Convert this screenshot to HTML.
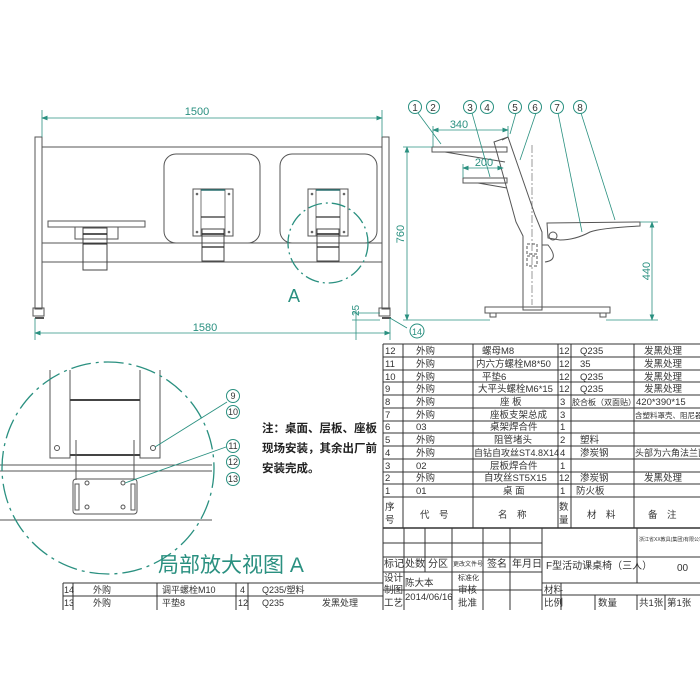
<!DOCTYPE html>
<html><head><meta charset="utf-8"><style>
html,body{margin:0;padding:0;background:#fff;}
svg{display:block;}
.t{font-family:"Liberation Sans","Noto Sans CJK SC",sans-serif;}
</style></head><body>
<svg width="700" height="700" viewBox="0 0 700 700" xmlns="http://www.w3.org/2000/svg" class="t">
<defs>
<marker id="a" markerWidth="8" markerHeight="6" refX="7" refY="3" orient="auto-start-reverse"><path d="M0,0L8,3L0,6z" fill="#2a9080"/></marker>
<g id="br">
<rect x="0" y="0" width="40" height="47" fill="none" stroke="#555" stroke-width="1"/>
<rect x="8" y="0" width="24" height="47" fill="none" stroke="#555" stroke-width="0.8"/>
<line x1="8" y1="1" x2="32" y2="1" stroke="#2a7070" stroke-width="1.5"/>
<line x1="8" y1="28" x2="32" y2="28" stroke="#333" stroke-width="1.2"/>
<circle cx="4" cy="5" r="1.3" fill="#666"/><circle cx="36" cy="5" r="1.3" fill="#666"/>
<circle cx="4" cy="43" r="1.3" fill="#666"/><circle cx="36" cy="43" r="1.3" fill="#666"/>
<rect x="9" y="40" width="22" height="32" fill="none" stroke="#444" stroke-width="1"/>
<line x1="9" y1="45" x2="31" y2="45" stroke="#222" stroke-width="1.5"/>
<line x1="9" y1="58" x2="31" y2="58" stroke="#222" stroke-width="1.2"/>
</g>
</defs>
<rect width="700" height="700" fill="#fff"/>
<g stroke="#555" fill="none" stroke-width="1">
<rect x="35" y="137" width="7" height="172"/>
<rect x="382" y="137" width="7" height="172"/>
<line x1="42" y1="147" x2="382" y2="147"/>
<line x1="42" y1="243" x2="382" y2="243"/>
<line x1="42" y1="262" x2="382" y2="262"/>
<rect x="164" y="154" width="96" height="89" rx="12"/>
<rect x="280" y="154" width="97" height="89" rx="12"/>
<rect x="48" y="221" width="97" height="6"/>
<rect x="75" y="227" width="43" height="12"/>
<rect x="33" y="308" width="11" height="8"/><rect x="379" y="308" width="11" height="8"/>
<line x1="35" y1="318" x2="44" y2="318" stroke-width="2"/><line x1="382" y1="318" x2="391" y2="318" stroke-width="2"/>
</g>
<use href="#br" x="193" y="189"/>
<use href="#br" x="308" y="189"/>
<g transform="translate(83,228)" stroke="#444" fill="none">
<rect x="0" y="0" width="24" height="42"/><line x1="0" y1="6" x2="24" y2="6" stroke="#222" stroke-width="1.5"/><line x1="0" y1="16" x2="24" y2="16" stroke="#222"/>
</g>
<g stroke="#2a9080" fill="none" stroke-width="1.3">
<circle cx="328" cy="243" r="40" stroke-dasharray="14,4,2,4"/>
</g>
<g stroke="#2a9080" stroke-width="0.8">
<line x1="42" y1="118" x2="382" y2="118" marker-start="url(#a)" marker-end="url(#a)"/>
<line x1="42" y1="110" x2="42" y2="137"/><line x1="382" y1="110" x2="382" y2="137"/>
<line x1="35" y1="333" x2="390" y2="333" marker-start="url(#a)" marker-end="url(#a)"/>
<line x1="35" y1="318" x2="35" y2="340"/><line x1="390" y1="318" x2="390" y2="340"/>
<line x1="356" y1="310" x2="356" y2="340"/><line x1="352" y1="313" x2="380" y2="313"/><line x1="352" y1="320" x2="380" y2="320"/>
<line x1="390" y1="318" x2="407" y2="328"/>
</g>
<g fill="#2a9080" font-size="11">
<text x="197" y="115" text-anchor="middle">1500</text>
<text x="205" y="331" text-anchor="middle">1580</text>
<text x="288" y="302" font-size="18">A</text>
<text x="353" y="322" font-size="10" transform="rotate(-90 353 316)">25</text>
</g>
<g fill="none" stroke="#2a9080"><circle cx="417" cy="331" r="7"/></g>
<text x="417" y="335" font-size="9" fill="#2a9080" text-anchor="middle">14</text>
<g stroke="#555" fill="none" stroke-width="1">
<path d="M432,147 L507,147 L507,152 L432,152 Z"/>
<path d="M445,152 L505,162"/>
<path d="M463,178 L507,178 L507,183 L463,183 Z"/>
<path d="M478,183 L507,188"/>
<path d="M494,142 L508,137 L535,215 L542,232 L542,310 L523,310 L523,236 L516,222 Z"/>
<path d="M508,137 L502,140"/>
<rect x="485" y="307" width="125" height="6"/>
<rect x="490" y="313" width="6" height="4"/><rect x="600" y="313" width="6" height="4"/>
<path d="M547,223 L640,222 L640,226 Q600,228 590,232 Q575,240 560,240 L548,238 Z"/>
<circle cx="553" cy="236" r="4"/>
<path d="M542,245 L548,245 Q560,260 545,262"/>
<rect x="527" y="244" width="10" height="10" stroke-dasharray="3,2"/>
<rect x="527" y="256" width="10" height="10" stroke-dasharray="3,2"/>
<line x1="532" y1="145" x2="532" y2="305" stroke-dasharray="8,2,2,2" stroke-width="0.6"/>
</g>
<g stroke="#2a9080" stroke-width="0.8" fill="none">
<line x1="407" y1="147" x2="407" y2="320" marker-start="url(#a)" marker-end="url(#a)"/>
<line x1="403" y1="147" x2="432" y2="147"/><line x1="403" y1="320" x2="490" y2="320"/>
<line x1="652" y1="222" x2="652" y2="320" marker-start="url(#a)" marker-end="url(#a)"/>
<line x1="640" y1="222" x2="658" y2="222"/><line x1="606" y1="320" x2="658" y2="320"/>
<line x1="433" y1="130" x2="508" y2="130" marker-start="url(#a)" marker-end="url(#a)"/>
<line x1="433" y1="126" x2="433" y2="147"/><line x1="508" y1="126" x2="508" y2="137"/>
<line x1="463" y1="168" x2="503" y2="168" marker-start="url(#a)" marker-end="url(#a)"/>
<line x1="463" y1="164" x2="463" y2="178"/>
<line x1="418" y1="113" x2="441" y2="144"/>
<line x1="472" y1="113" x2="490" y2="177"/>
<line x1="516" y1="113" x2="510" y2="134"/>
<line x1="536" y1="113" x2="520" y2="160"/>
<line x1="558" y1="113" x2="582" y2="232"/>
<line x1="581" y1="113" x2="615" y2="220"/>
</g>
<g stroke="#2a9080" fill="#fff">
<circle cx="415" cy="107" r="6.5"/><circle cx="433" cy="107" r="6.5"/><circle cx="470" cy="107" r="6.5"/><circle cx="487" cy="107" r="6.5"/>
<circle cx="515" cy="107" r="6.5"/><circle cx="535" cy="107" r="6.5"/><circle cx="557" cy="107" r="6.5"/><circle cx="580" cy="107" r="6.5"/>
</g>
<g fill="#333" font-size="10" text-anchor="middle">
<text x="415" y="111">1</text><text x="433" y="111">2</text><text x="470" y="111">3</text><text x="487" y="111">4</text>
<text x="515" y="111">5</text><text x="535" y="111">6</text><text x="557" y="111">7</text><text x="580" y="111">8</text>
</g>
<g fill="#2a9080" font-size="11">
<text x="459" y="128" text-anchor="middle">340</text>
<text x="484" y="166" text-anchor="middle">200</text>
<text x="404" y="234" transform="rotate(-90 404 234)" text-anchor="middle">760</text>
<text x="650" y="271" transform="rotate(-90 650 271)" text-anchor="middle">440</text>
</g>
<g stroke="#555" fill="none" stroke-width="1">
<path d="M50,370 L50,458 L70,458 L70,370"/>
<path d="M160,370 L160,458 L140,458 L140,370"/>
<line x1="70" y1="400" x2="140" y2="400" stroke="#444" stroke-width="2"/>
<line x1="70" y1="455" x2="140" y2="455" stroke="#444" stroke-width="2"/>
<circle cx="57" cy="448" r="2.5"/><circle cx="153" cy="448" r="2.5"/>
<line x1="0" y1="465" x2="212" y2="465"/><line x1="0" y1="471" x2="212" y2="471"/>
<line x1="0" y1="520" x2="212" y2="520"/>
<path d="M76,440 L76,480"/><path d="M134,440 L134,480"/>
<rect x="73" y="479" width="64" height="35" rx="3"/>
<rect x="75" y="484" width="4" height="26"/><rect x="131" y="484" width="4" height="26"/>
<circle cx="87" cy="483" r="2"/><circle cx="123" cy="483" r="2"/><circle cx="87" cy="507" r="2"/><circle cx="123" cy="507" r="2"/>
</g>
<circle cx="108" cy="468" r="106" fill="none" stroke="#2a9080" stroke-width="1.3" stroke-dasharray="20,5,3,5"/>
<g stroke="#2a9080" stroke-width="0.9">
<line x1="155" y1="447" x2="227" y2="402"/>
<line x1="125" y1="483" x2="226" y2="447"/>
</g>
<g stroke="#2a9080" fill="none">
<circle cx="233" cy="396" r="6.5"/><circle cx="233" cy="412" r="6.5"/><circle cx="233" cy="446" r="6.5"/><circle cx="233" cy="462" r="6.5"/><circle cx="233" cy="479" r="6.5"/>
</g>
<g fill="#333" font-size="9" text-anchor="middle">
<text x="233" y="399">9</text><text x="233" y="415">10</text><text x="233" y="449">11</text><text x="233" y="465">12</text><text x="233" y="482">13</text>
</g>
<g fill="#222" font-size="11.5" font-weight="bold">
<text x="262" y="432">注：桌面、层板、座板</text>
<text x="262" y="452">现场安装，其余出厂前</text>
<text x="262" y="472">安装完成。</text>
</g>
<text x="158" y="572" font-size="21" fill="#2a9080">局部放大视图 A</text>
<g stroke="#333" stroke-width="1" fill="none">
<line x1="63" y1="583" x2="383" y2="583"/><line x1="63" y1="596" x2="383" y2="596"/>
<line x1="63" y1="583" x2="63" y2="610"/><line x1="73" y1="583" x2="73" y2="610"/>
<line x1="157" y1="583" x2="157" y2="610"/><line x1="236" y1="583" x2="236" y2="610"/><line x1="248" y1="583" x2="248" y2="610"/>
</g>
<g fill="#333" font-size="9">
<text x="64" y="593">14</text><text x="93" y="593">外购</text><text x="162" y="593">调平螺栓M10</text><text x="240" y="593">4</text><text x="262" y="593">Q235/塑料</text>
<text x="64" y="606">13</text><text x="93" y="606">外购</text><text x="162" y="606">平垫8</text><text x="238" y="606">12</text><text x="262" y="606">Q235</text><text x="322" y="606">发黑处理</text>
</g>
<g stroke="#333" stroke-width="1" fill="none">
<line x1="383" y1="344" x2="700" y2="344"/>
<line x1="383" y1="357" x2="700" y2="357"/><line x1="383" y1="370" x2="700" y2="370"/><line x1="383" y1="382" x2="700" y2="382"/>
<line x1="383" y1="395" x2="700" y2="395"/><line x1="383" y1="408" x2="700" y2="408"/><line x1="383" y1="421" x2="700" y2="421"/>
<line x1="383" y1="433" x2="700" y2="433"/><line x1="383" y1="446" x2="700" y2="446"/><line x1="383" y1="459" x2="700" y2="459"/>
<line x1="383" y1="472" x2="700" y2="472"/><line x1="383" y1="484" x2="700" y2="484"/><line x1="383" y1="497" x2="700" y2="497"/>
<line x1="383" y1="528" x2="700" y2="528" stroke-width="1.5"/>
<line x1="383" y1="344" x2="383" y2="610"/><line x1="403" y1="344" x2="403" y2="528"/><line x1="473" y1="344" x2="473" y2="528"/>
<line x1="558" y1="344" x2="558" y2="528"/><line x1="571" y1="344" x2="571" y2="528"/><line x1="634" y1="344" x2="634" y2="528"/>
<line x1="383" y1="543" x2="542" y2="543"/><line x1="383" y1="557" x2="700" y2="557"/>
<line x1="383" y1="572" x2="542" y2="572"/><line x1="542" y1="583" x2="700" y2="583"/>
<line x1="383" y1="590" x2="542" y2="590"/><line x1="542" y1="595" x2="700" y2="595"/>
<line x1="404" y1="528" x2="404" y2="610"/><line x1="425" y1="528" x2="425" y2="572"/><line x1="452" y1="528" x2="452" y2="610"/>
<line x1="483" y1="528" x2="483" y2="610"/><line x1="510" y1="528" x2="510" y2="610"/><line x1="542" y1="528" x2="542" y2="610"/>
<line x1="637" y1="528" x2="637" y2="583"/><line x1="637" y1="595" x2="637" y2="610"/><line x1="665" y1="595" x2="665" y2="610"/>
<line x1="595" y1="595" x2="595" y2="610"/><line x1="561" y1="583" x2="561" y2="610"/>
</g>
<g fill="#333" font-size="9.5">
<text x="385" y="354">12</text><text x="416" y="354">外购</text><text x="482" y="354">螺母M8</text><text x="559" y="354">12</text><text x="580" y="354">Q235</text><text x="644" y="354">发黑处理</text>
<text x="385" y="367">11</text><text x="416" y="367">外购</text><text x="476" y="367">内六方螺栓M8*50</text><text x="559" y="367">12</text><text x="580" y="367">35</text><text x="644" y="367">发黑处理</text>
<text x="385" y="380">10</text><text x="416" y="380">外购</text><text x="482" y="380">平垫6</text><text x="559" y="380">12</text><text x="580" y="380">Q235</text><text x="644" y="380">发黑处理</text>
<text x="385" y="392">9</text><text x="416" y="392">外购</text><text x="478" y="392">大平头螺栓M6*15</text><text x="559" y="392">12</text><text x="580" y="392">Q235</text><text x="644" y="392">发黑处理</text>
<text x="385" y="405">8</text><text x="416" y="405">外购</text><text x="500" y="405">座 板</text><text x="560" y="405">3</text><text x="572" y="405" font-size="8">胶合板（双面贴）</text><text x="636" y="405">420*390*15</text>
<text x="385" y="418">7</text><text x="416" y="418">外购</text><text x="490" y="418">座板支架总成</text><text x="560" y="418">3</text><text x="635" y="418" font-size="7.5">含塑料罩壳、阻尼器</text>
<text x="385" y="430">6</text><text x="416" y="430">03</text><text x="490" y="430">桌架焊合件</text><text x="560" y="430">1</text>
<text x="385" y="443">5</text><text x="416" y="443">外购</text><text x="494" y="443">阻管堵头</text><text x="560" y="443">2</text><text x="580" y="443">塑料</text>
<text x="385" y="456">4</text><text x="416" y="456">外购</text><text x="474" y="456" font-size="9">自钻自攻丝ST4.8X14</text><text x="560" y="456">4</text><text x="580" y="456">渗炭钢</text><text x="635" y="456" font-size="9">头部为六角法兰面</text>
<text x="385" y="469">3</text><text x="416" y="469">02</text><text x="490" y="469">层板焊合件</text><text x="560" y="469">1</text>
<text x="385" y="481">2</text><text x="416" y="481">外购</text><text x="484" y="481">自攻丝ST5X15</text><text x="559" y="481">12</text><text x="580" y="481">渗炭钢</text><text x="644" y="481">发黑处理</text>
<text x="385" y="494">1</text><text x="416" y="494">01</text><text x="503" y="494">桌 面</text><text x="560" y="494">1</text><text x="576" y="494">防火板</text>
<text x="385" y="510">序</text><text x="385" y="523">号</text><text x="420" y="518">代　号</text><text x="498" y="518">名　称</text>
<text x="559" y="510">数</text><text x="559" y="523">量</text><text x="587" y="518">材　料</text><text x="648" y="518">备　注</text>
<text x="384" y="567" font-size="10">标记</text><text x="405" y="567" font-size="10">处数</text><text x="428" y="567" font-size="10">分区</text><text x="453" y="566" font-size="6">更改文件号</text><text x="487" y="567" font-size="10">签名</text><text x="512" y="567" font-size="10">年月日</text>
<text x="384" y="581">设计</text><text x="405" y="586">陈大本</text><text x="458" y="580" font-size="7">标准化</text>
<text x="384" y="593">制图</text><text x="405" y="600">2014/06/16</text><text x="458" y="593">审核</text>
<text x="384" y="606">工艺</text><text x="458" y="606">批准</text><text x="544" y="593">材料</text><text x="544" y="606">比例</text>
<text x="546" y="569" font-size="10">F型活动课桌椅（三人）</text><text x="677" y="571" font-size="10">00</text>
<text x="639" y="541" font-size="5">浙江省XX教具(集团)有限公司</text>
<text x="598" y="606">数量</text><text x="639" y="606">共1张</text><text x="667" y="606">第1张</text>
</g>
</svg>
</body></html>
